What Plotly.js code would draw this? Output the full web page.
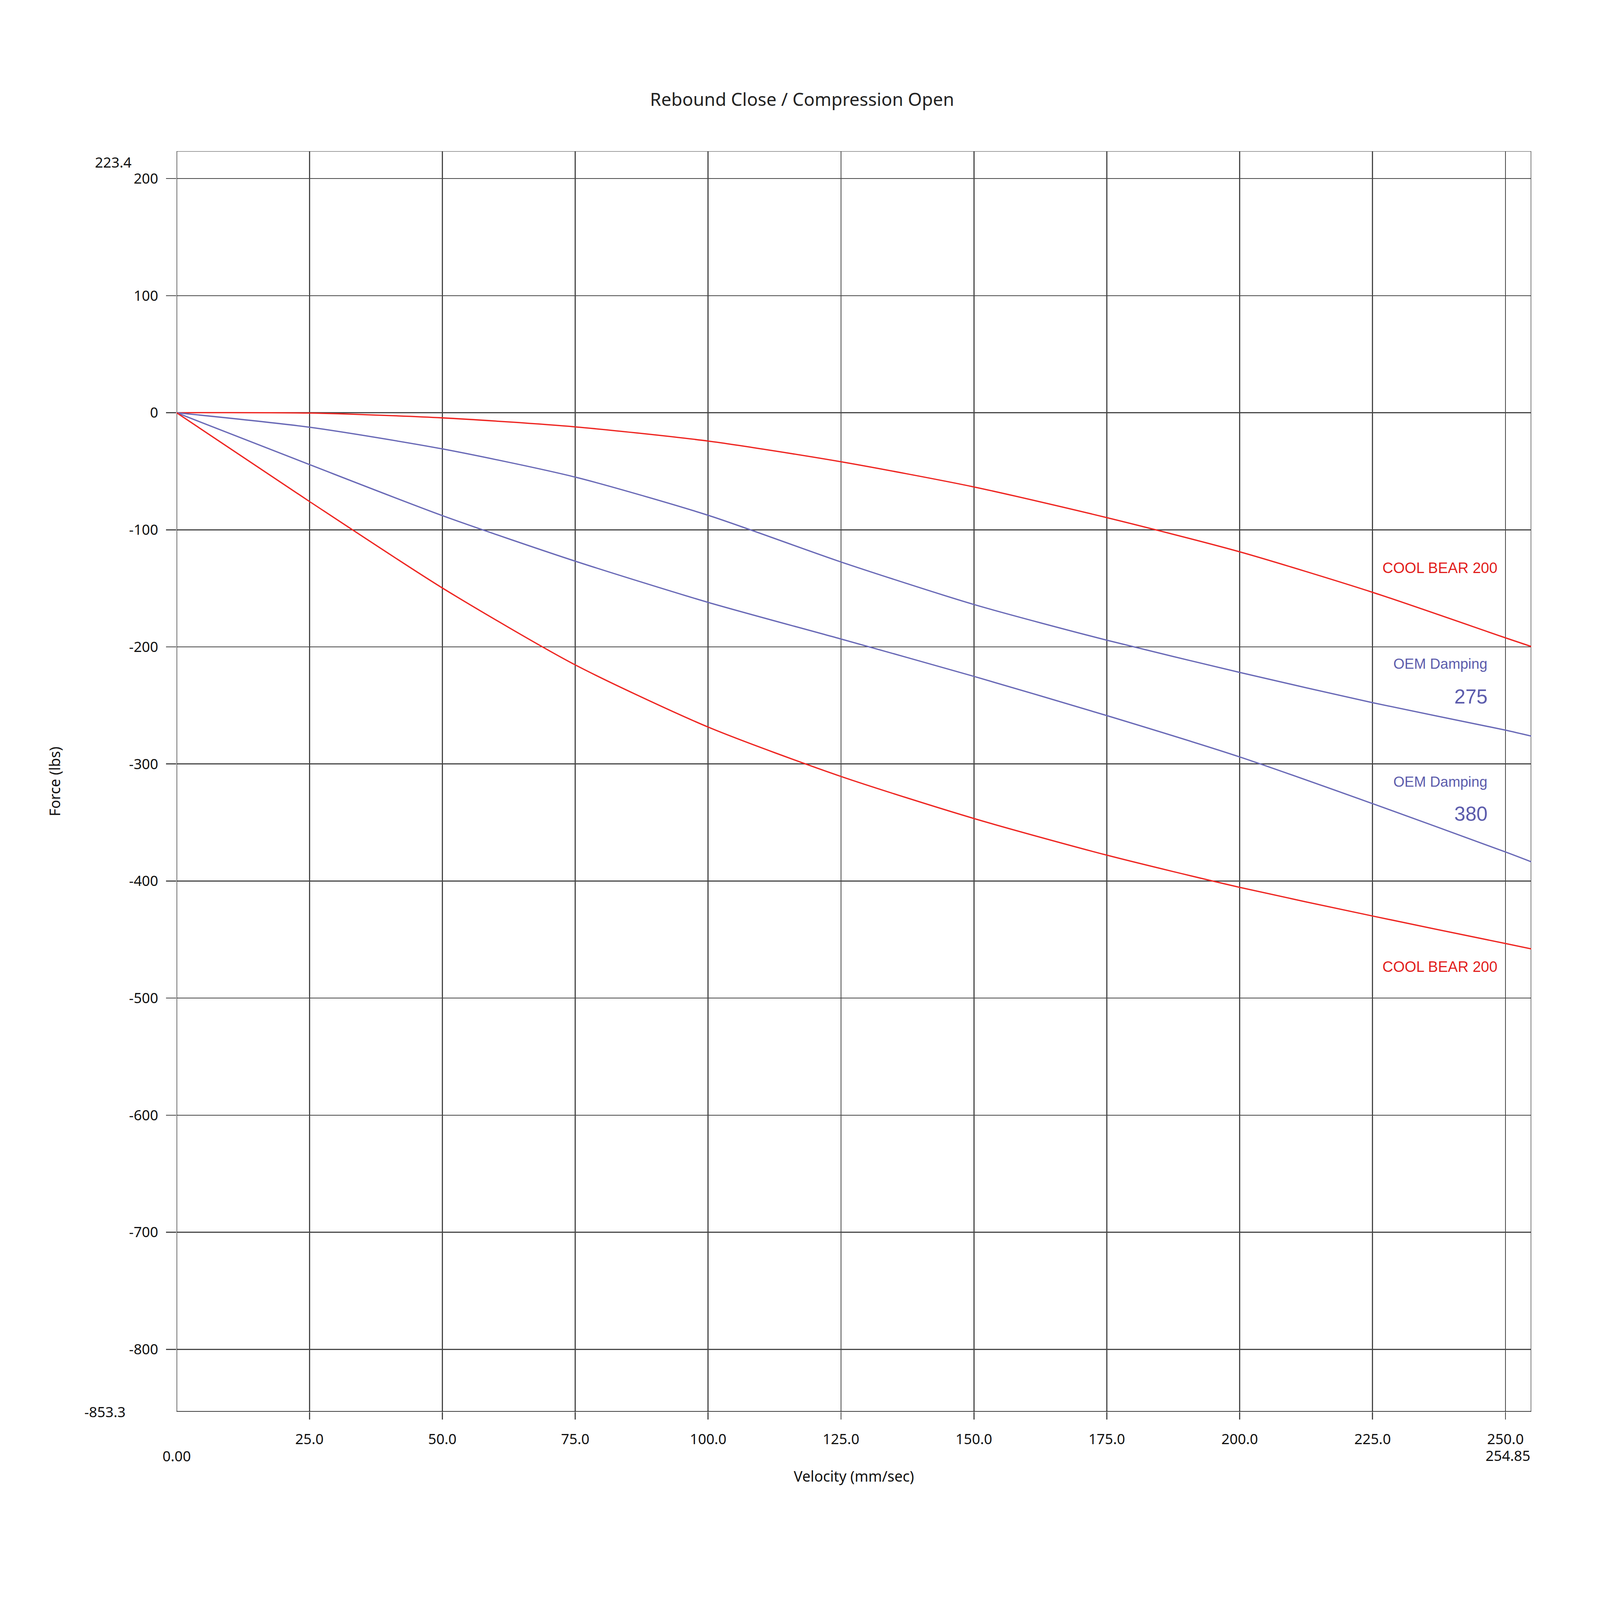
<!DOCTYPE html>
<html>
<head>
<meta charset="utf-8">
<script src="https://cdn.plot.ly/plotly-3.0.1.min.js"></script>
<style>html,body{margin:0;padding:0;background:#fff;overflow:hidden;}</style>
</head>
<body>
<div id="chart"></div>
<script>
// ---- data ----
const velocity     = [0, 25, 50, 75, 100, 125, 150, 175, 200, 225, 250, 254.85];
const coolBearLow  = [0, -0.3, -4.4, -12.1, -24.2, -41.9, -63.4, -89.6, -118.8, -153.4, -192.3, -199.7];
const oem275       = [0, -12.4, -30.9, -55.0, -87.6, -127.5, -163.8, -194.3, -221.8, -247.7, -271.1, -276.2];
const oem380       = [0, -44.3, -87.9, -126.8, -162.0, -193.3, -225.2, -258.7, -294.0, -333.9, -375.2, -383.6];
const coolBearHigh = [0, -75.8, -149.7, -215.4, -268.5, -310.7, -346.6, -377.9, -405.4, -429.9, -453.4, -458.0];

const xRange = [0, 254.85];
const yRange = [-853.3, 223.4];
const xTickVals = [25, 50, 75, 100, 125, 150, 175, 200, 225, 250];
const xTickText = ['25.0', '50.0', '75.0', '100.0', '125.0', '150.0', '175.0', '200.0', '225.0', '250.0'];
const yTickVals = [-800, -700, -600, -500, -400, -300, -200, -100, 0, 100, 200];
const yTickText = ['-800', '-700', '-600', '-500', '-400', '-300', '-200', '-100', '0', '100', '200'];
const xEndLabels = ['0.00', '254.85'];
const yEndLabels = ['223.4', '-853.3'];
const seriesNames = ['COOL BEAR 200', 'OEM Damping 275', 'OEM Damping 380', 'COOL BEAR 200'];
const curveLabelText = ['COOL BEAR 200', 'OEM Damping', '275', 'OEM Damping', '380', 'COOL BEAR 200'];

const chartTitle = 'Rebound Close / Compression Open';
const xTitle = 'Velocity (mm/sec)';
const yTitle = 'Force (lbs)';

// ---- sizing: design is 6250 x 4417, fitted to the actual window ----
const W = window.innerWidth || 6250;
const H = window.innerHeight || 4417;
const sx = W / 6250, sy = H / 4417, fs = Math.min(sx, sy);
document.getElementById('chart').style.width = W + 'px';
document.getElementById('chart').style.height = H + 'px';

// ---- styles ----
const RED = 'rgb(238,36,32)';
const RED_TXT = 'rgb(226,30,28)';
const BLUE = 'rgb(104,104,182)';
const BLUE_TXT = 'rgb(92,92,172)';
const GRID = '#474747';
const SANS = 'Noto Sans, Open Sans, sans-serif';
const ARIAL = 'Liberation Sans, Arial, sans-serif';
const TICKSIZE = 56 * fs;
const TICKFONT = {family: SANS, size: TICKSIZE, color: '#111'};
const lw = v => Math.max(1, v * fs);

function curve(y, color, name) {
  return {
    x: velocity, y: y, type: 'scatter', mode: 'lines', name: name,
    line: {color: color, width: lw(5), shape: 'spline', smoothing: 0.7},
    hoverinfo: 'skip', showlegend: false
  };
}

const traces = [
  curve(coolBearLow, RED, seriesNames[0]),
  curve(oem275, BLUE, seriesNames[1]),
  curve(oem380, BLUE, seriesNames[2]),
  curve(coolBearHigh, RED, seriesNames[3])
];

const shapes = [
  // plot frame
  {type: 'line', xref: 'x', yref: 'y', x0: xRange[0], x1: xRange[1], y0: yRange[1], y1: yRange[1], line: {color: '#6a6a6a', width: lw(4)}, layer: 'below'},
  {type: 'line', xref: 'x', yref: 'y', x0: xRange[0], x1: xRange[1], y0: yRange[0], y1: yRange[0], line: {color: '#000', width: lw(4.5)}},
  {type: 'line', xref: 'x', yref: 'y', x0: xRange[0], x1: xRange[0], y0: yRange[0], y1: yRange[1], line: {color: '#3c3c3c', width: lw(4.5)}, layer: 'below'},
  {type: 'line', xref: 'x', yref: 'y', x0: xRange[1], x1: xRange[1], y0: yRange[0], y1: yRange[1], line: {color: '#3c3c3c', width: lw(4)}, layer: 'below'},
  // long end ticks
  {type: 'line', xref: 'x', yref: 'y', xsizemode: 'pixel', xanchor: xRange[0], x0: -172 * sx, x1: 0, y0: yRange[1], y1: yRange[1], line: {color: '#6a6a6a', width: lw(4)}},
  {type: 'line', xref: 'x', yref: 'y', xsizemode: 'pixel', xanchor: xRange[0], x0: -194 * sx, x1: 0, y0: yRange[0], y1: yRange[0], line: {color: '#444', width: lw(4.5)}},
  {type: 'line', xref: 'x', yref: 'y', ysizemode: 'pixel', yanchor: yRange[0], y0: -76 * sy, y1: 0, x0: xRange[0], x1: xRange[0], line: {color: '#444', width: lw(4)}},
  {type: 'line', xref: 'x', yref: 'y', ysizemode: 'pixel', yanchor: yRange[0], y0: -76 * sy, y1: 0, x0: xRange[1], x1: xRange[1], line: {color: '#444', width: lw(4)}}
];

const annotations = [
  // axis end labels
  {xref: 'x', yref: 'y', x: xRange[0], y: yRange[1], xshift: -172 * sx, yshift: -(13 * sy + 24 * fs), xanchor: 'right', yanchor: 'middle', text: yEndLabels[0], showarrow: false, font: TICKFONT},
  {xref: 'x', yref: 'y', x: xRange[0], y: yRange[0], xshift: -195 * sx, xanchor: 'right', yanchor: 'middle', text: yEndLabels[1], showarrow: false, font: TICKFONT},
  {xref: 'x', yref: 'y', x: xRange[0], y: yRange[0], yshift: -(103 * sy + 26 * fs), xanchor: 'center', yanchor: 'middle', text: xEndLabels[0], showarrow: false, font: TICKFONT},
  {xref: 'x', yref: 'y', x: xRange[1], y: yRange[0], yshift: -(102 * sy + 26 * fs), xanchor: 'right', yanchor: 'middle', text: xEndLabels[1], showarrow: false, font: TICKFONT},
  // curve labels
  {x: 248.6, y: -132.5, xanchor: 'right', yanchor: 'middle', text: curveLabelText[0], showarrow: false, font: {family: ARIAL, size: 58 * fs, color: RED_TXT}},
  {x: 246.8, y: -214.6, xanchor: 'right', yanchor: 'middle', text: curveLabelText[1], showarrow: false, font: {family: ARIAL, size: 56 * fs, color: BLUE_TXT}},
  {x: 246.8, y: -242.5, xanchor: 'right', yanchor: 'middle', text: curveLabelText[2], showarrow: false, font: {family: ARIAL, size: 78 * fs, color: BLUE_TXT}},
  {x: 246.8, y: -315.3, xanchor: 'right', yanchor: 'middle', text: curveLabelText[3], showarrow: false, font: {family: ARIAL, size: 56 * fs, color: BLUE_TXT}},
  {x: 246.8, y: -342.8, xanchor: 'right', yanchor: 'middle', text: curveLabelText[4], showarrow: false, font: {family: ARIAL, size: 78 * fs, color: BLUE_TXT}},
  {x: 248.6, y: -473.2, xanchor: 'right', yanchor: 'middle', text: curveLabelText[5], showarrow: false, font: {family: ARIAL, size: 58 * fs, color: RED_TXT}}
];

// integer-valued Plotly attributes
const xLabStandoff = Math.max(0, Math.round(55 * sy - 49 * fs));
const yLabStandoff = Math.max(0, Math.round(20 * sx));
const xTitleStandoff = Math.round(65 * sy);
const yTitleStandoff = Math.round(250 * sx);

const layout = {
  width: W, height: H,
  paper_bgcolor: '#fff', plot_bgcolor: '#fff',
  margin: {l: 689 * sx, r: 269 * sx, t: 417 * sy, b: 520 * sy, pad: 0},
  showlegend: false,
  title: {
    text: chartTitle, xref: 'container', yref: 'container', x: 0.5013, y: 0.9377, yanchor: 'middle', xanchor: 'center',
    font: {family: SANS, size: 70 * fs, color: '#222'}
  },
  xaxis: {
    range: xRange, autorange: false, fixedrange: true,
    tickmode: 'array', tickvals: xTickVals, ticktext: xTickText,
    ticks: 'outside', ticklen: 20 * sy, tickwidth: lw(4), tickcolor: GRID,
    ticklabelstandoff: xLabStandoff,
    tickfont: TICKFONT,
    showgrid: true, gridcolor: GRID, gridwidth: lw(4),
    zeroline: false, showline: false,
    title: {text: xTitle, font: {family: SANS, size: 57 * fs, color: '#111'}, standoff: xTitleStandoff}
  },
  yaxis: {
    range: yRange, autorange: false, fixedrange: true,
    tickmode: 'array', tickvals: yTickVals, ticktext: yTickText,
    ticks: 'outside', ticklen: 39 * sx, tickwidth: lw(4), tickcolor: GRID,
    ticklabelstandoff: yLabStandoff,
    tickfont: TICKFONT,
    showgrid: true, gridcolor: GRID, gridwidth: lw(4),
    zeroline: false, showline: false,
    title: {text: yTitle, font: {family: SANS, size: 57 * fs, color: '#111'}, standoff: yTitleStandoff}
  },
  shapes: shapes,
  annotations: annotations
};

Plotly.newPlot('chart', traces, layout, {staticPlot: true, displayModeBar: false});
</script>
</body>
</html>
